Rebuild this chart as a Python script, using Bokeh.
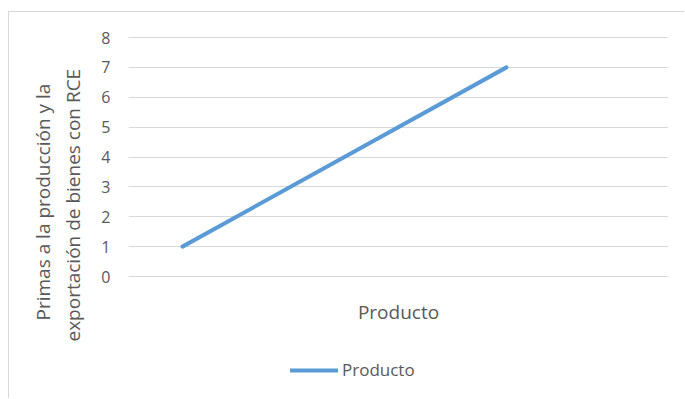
from bokeh.plotting import figure
from bokeh.models import Range1d, FixedTicker, Legend, LegendItem, Label, Title
from bokeh.embed import file_html
from bokeh.resources import INLINE

# Series data
x_vals = [1, 7]
y_vals = [1, 7]
y_ticks = [0, 1, 2, 3, 4, 5, 6, 7, 8]
series_name = "Producto"
x_title = "Producto"
y_title_lines = ["Primas a la producción y la", "exportación de bienes con RCE"]

FONT = "Open Sans"
TEXT_COLOR = "#595959"
GRID_COLOR = "#d9d9d9"
LINE_COLOR = "#5b9bd5"

# The plot frame runs to the bottom edge so that the axis title and the
# legend can sit inside it, below the 0 gridline.
PX_PER_UNIT = 29.875
y_lo = -123 / PX_PER_UNIT
y_hi = 8 + 1 / PX_PER_UNIT

p = figure(
    width=676, height=387,
    x_range=Range1d(0, 10), y_range=Range1d(y_lo, y_hi),
    output_backend="svg", toolbar_location=None,
    min_border_left=119, min_border_right=17,
    min_border_top=24, min_border_bottom=0,
    styles={"margin-left": "8px", "margin-top": "11px",
            "border-left": f"1px solid {GRID_COLOR}",
            "border-top": f"1px solid {GRID_COLOR}"},
)
p.outline_line_color = None
p.background_fill_color = "white"
p.border_fill_color = "white"

# Gridlines
p.xgrid.visible = False
p.ygrid.ticker = FixedTicker(ticks=y_ticks)
p.ygrid.grid_line_color = GRID_COLOR
p.ygrid.grid_line_width = 1

# Y axis: labels only
p.yaxis.ticker = FixedTicker(ticks=y_ticks)
p.yaxis.axis_line_color = None
p.yaxis.major_tick_line_color = None
p.yaxis.major_tick_out = 0
p.yaxis.minor_tick_line_color = None
p.yaxis.major_label_standoff = 18
p.yaxis.major_label_text_font = FONT
p.yaxis.major_label_text_font_size = "16px"
p.yaxis.major_label_text_color = TEXT_COLOR

p.xaxis.visible = False

# Y axis title, two lines stacked outward from the tick labels
for line, standoff, offset in [(y_title_lines[1], 26, 58), (y_title_lines[0], -22, 79)]:
    p.add_layout(Title(
        text=line, align="left", offset=offset, standoff=standoff,
        text_font=FONT, text_font_size="19px", text_font_style="normal",
        text_color=TEXT_COLOR,
    ), "left")

r = p.line(x_vals, y_vals, line_color=LINE_COLOR, line_width=4, line_cap="round")

# X axis title under the 0 gridline
p.add_layout(Label(
    x=(p.x_range.start + p.x_range.end) / 2, y=0, y_offset=-35,
    text=x_title, text_align="center", text_baseline="middle",
    text_font=FONT, text_font_size="19px", text_color=TEXT_COLOR,
))

legend = Legend(
    items=[LegendItem(label=series_name, renderers=[r])],
    orientation="horizontal", location=(162, 18),
    glyph_width=48, label_standoff=4, padding=0, margin=0,
    border_line_color=None, background_fill_alpha=0,
    label_text_font=FONT, label_text_font_size="17px", label_text_color=TEXT_COLOR,
)
p.add_layout(legend)

open("out.html", "w").write(file_html(p, INLINE))
